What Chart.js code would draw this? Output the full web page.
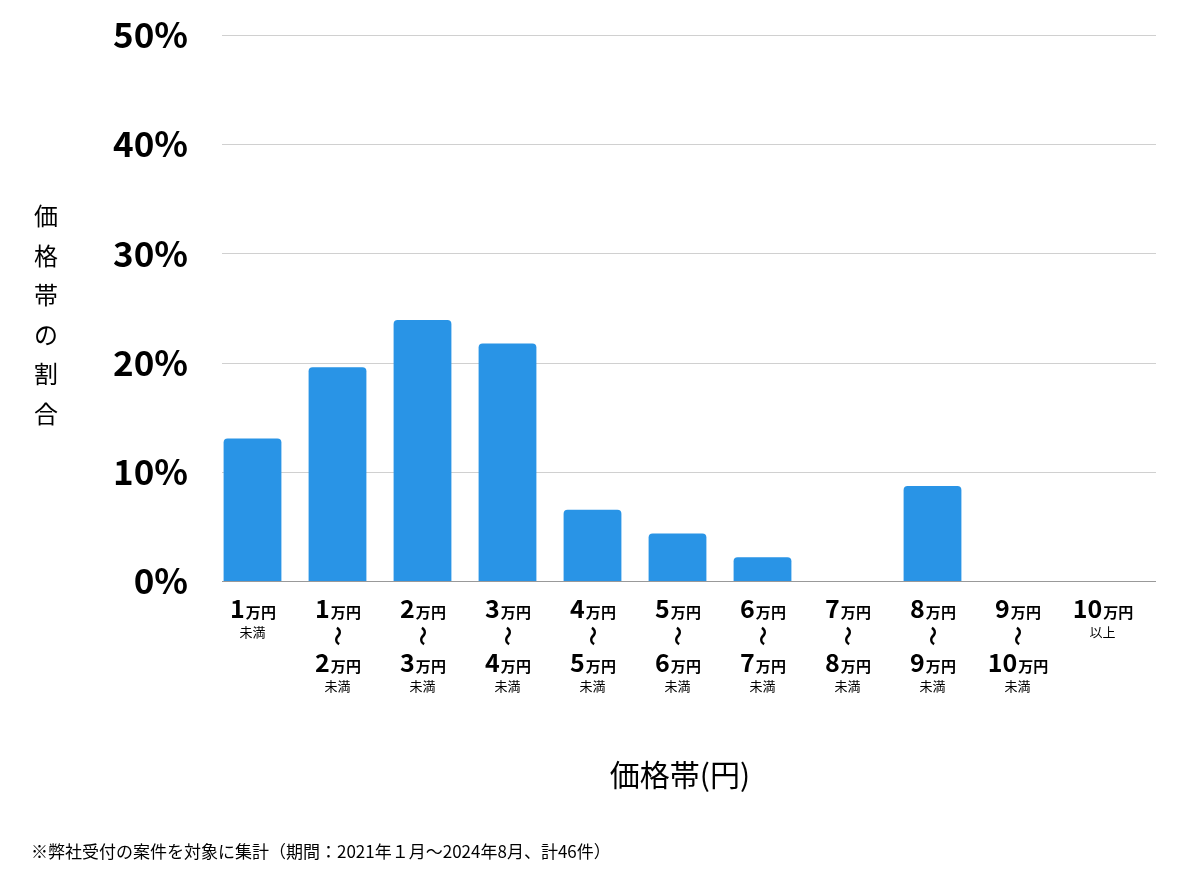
<!DOCTYPE html>
<html><head><meta charset="utf-8">
<script src="https://cdn.jsdelivr.net/npm/chart.js@4/dist/chart.umd.min.js"></script>
<style>html,body{margin:0;padding:0;background:#fff}#w{width:1200px;height:874px}</style>
</head><body><div id="w"><canvas id="c"></canvas></div>
<script>
const categories=["1万円未満","1〜2万円","2〜3万円","3〜4万円","4〜5万円","5〜6万円","6〜7万円","7〜8万円","8〜9万円","9〜10万円","10万円以上"];
const fromNums=["1","1","2","3","4","5","6","7","8","9","10"];
const toNums=[null,"2","3","4","5","6","7","8","9","10",null];
const suffixes=["未満","","","","","","","","","","以上"];
const values=[13.04,19.57,23.91,21.74,6.52,4.35,2.17,0,8.70,0,0];
const yTicks=[0,10,20,30,40,50];
const F='"Noto Sans CJK JP","Noto Sans",sans-serif';
function amount(ctx,x,y,num){
  ctx.font='bold 25px '+F;const w1=ctx.measureText(num).width;
  ctx.font='bold 15px '+F;const w2=ctx.measureText('万円').width;
  let sx=x-(w1+w2)/2;ctx.textAlign='left';ctx.textBaseline='alphabetic';
  ctx.font='bold 25px '+F;ctx.fillText(num,sx,y);
  ctx.font='bold 15px '+F;ctx.fillText('万円',sx+w1+1,y);
}
const grid={id:'grid',beforeDatasetsDraw(ch){
  const ctx=ch.ctx,ys=ch.scales.y;ctx.save();
  yTicks.forEach(v=>{const y=Math.round(ys.getPixelForValue(v))+0.5;ctx.strokeStyle=v===0?'#999':'#d0d0d0';ctx.lineWidth=1;ctx.beginPath();ctx.moveTo(222,y);ctx.lineTo(1156,y);ctx.stroke();});
  ctx.restore();
}};
const labels={id:'labels',afterDraw(ch){
  const ctx=ch.ctx,xs=ch.scales.x;ctx.save();ctx.fillStyle='#000';
  categories.forEach((c,i)=>{
    const x=xs.getPixelForValue(i);
    amount(ctx,x,618,fromNums[i]);
    ctx.font='13px '+F;ctx.textAlign='center';
    if(toNums[i]===null){ctx.fillText(suffixes[i],x,637);}
    else{
      ctx.save();ctx.translate(x,636);ctx.rotate(Math.PI/2);ctx.font='bold 20px '+F;ctx.textAlign='center';ctx.textBaseline='middle';ctx.fillText('〜',0,0);ctx.restore();
      amount(ctx,x,672,toNums[i]);
      ctx.font='13px '+F;ctx.textAlign='center';ctx.fillText('未満',x,691);
    }
  });
  ctx.font='24px '+F;ctx.textAlign='center';ctx.textBaseline='middle';
  ['価','格','帯','の','割','合'].forEach((t,i)=>ctx.fillText(t,46,216+i*39.5));
  ctx.font='30px '+F;ctx.fillText('価格帯(円)',680,775);
  ctx.font='17px '+F;ctx.textAlign='left';ctx.fillText('※弊社受付の案件を対象に集計（期間：2021年１月〜2024年8月、計46件）',31,852);
  ctx.restore();
}};
new Chart(document.getElementById('c'),{type:'bar',
data:{labels:categories,datasets:[{data:values,backgroundColor:'#2994e6',borderRadius:4,borderSkipped:'bottom',categoryPercentage:0.68,barPercentage:1}]},
options:{responsive:true,maintainAspectRatio:false,animation:false,
layout:{padding:{top:23,right:55,left:0,bottom:0}},
plugins:{legend:{display:false},tooltip:{enabled:false}},
scales:{
x:{grid:{display:false},border:{display:false},ticks:{display:false},afterFit(s){s.height=293;}},
y:{min:0,max:50,afterFit(s){s.width=210;},afterBuildTicks(s){s.ticks=yTicks.map(v=>({value:v}));},
grid:{display:false},border:{display:false},
ticks:{padding:14,color:'#000',font:{family:F,size:35,weight:'bold'},callback:v=>v+'%'}}}},
plugins:[grid,labels]});
</script></body></html>
